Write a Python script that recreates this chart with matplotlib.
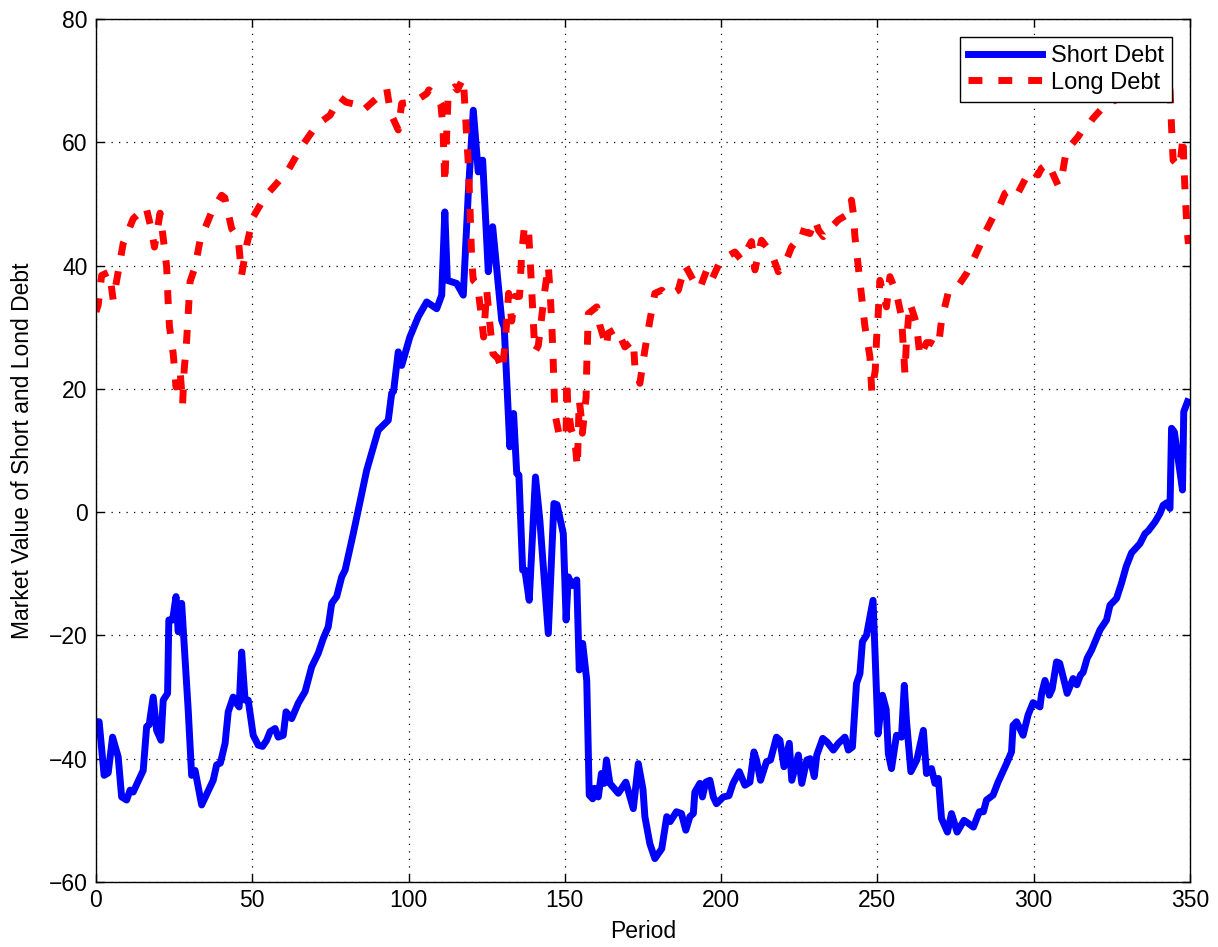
import matplotlib
matplotlib.use("Agg")
import matplotlib.pyplot as plt

plt.rcParams['font.family'] = ['Liberation Sans', 'DejaVu Sans']

# Short debt: (period, value) samples
short_period = [0, 1, 2.6, 3.9, 5.3, 7.1, 8.2, 9.8, 10.9, 11.9, 15.1, 16.2, 17, 18.3, 19.4, 20.8,
                21.5, 22.9, 23.3, 24.5, 25.6, 26.3, 27.4, 28, 29.5, 30.6, 31.7, 33.8, 37.5, 38.6,
                39.8, 41.3, 42.3, 43.9, 44.9, 45.8, 46.6, 47.7, 48.7, 50.3, 51.9, 53.3, 54.6, 55.7,
                57.3, 58.3, 59.9, 60.8, 62.6, 64.7, 66.9, 69, 71.1, 72.7, 74.3, 75.4, 77, 78.6,
                79.7, 82.3, 86.6, 90.3, 93.5, 94.6, 95.2, 96.7, 97.8, 100.4, 103.1, 105.8, 109,
                110.6, 111.6, 112.4, 115.4, 117.5, 119.1, 120.7, 122.3, 123.7, 125.5, 126.9, 129.8,
                130.6, 132.4, 133.6, 134.6, 135.3, 136.5, 137.2, 138.6, 140.6, 142, 144.7, 146.5,
                147.5, 149.5, 150.4, 151.1, 152.4, 153.8, 154.6, 155.7, 157, 157.8, 158.9, 159.5,
                160.7, 161.7, 162.6, 163.3, 164.4, 167.1, 169.5, 171.9, 173.5, 175, 175.6, 177.2,
                178.8, 181, 182.6, 183.7, 185.7, 187.3, 188.7, 190, 191.1, 191.6, 193.2, 194,
                195.1, 196.4, 197.5, 198.5, 200.7, 202.5, 203.8, 205.8, 207.6, 209.2, 210.5, 211.3,
                212.6, 214.5, 215.8, 217.7, 218.8, 220.1, 221.8, 222.6, 224.7, 225.8, 227.4, 228.5,
                229.8, 230.6, 232.5, 233.9, 235.9, 237.5, 239.6, 240.7, 242, 243.3, 244.4, 245.2,
                246.5, 247.6, 248.6, 250.2, 251.6, 252.8, 253.5, 254.5, 256.1, 257.7, 258.6, 259.3,
                260.7, 262.6, 264.7, 265.7, 267.3, 268.4, 269.5, 270.5, 272.4, 273.7, 275.5, 277.7,
                279.1, 280.7, 282.6, 283.9, 284.9, 287, 288.6, 291.3, 292.9, 293.4, 294.5, 296.6,
                298.2, 299.8, 302, 302.5, 303.6, 305, 305.9, 307.3, 308.3, 309.7, 310.7, 312.6,
                313.8, 315, 315.8, 317.1, 318.5, 321.2, 323.3, 324.4, 326.5, 328.1, 329.6, 331.3,
                334, 335.6, 336.7, 338.8, 340.4, 341.4, 342.5, 343.6, 344.1, 345, 347.6, 348, 349.2]
short_value = [-34, -34, -42.7, -42.3, -36.5, -39.7, -46.2, -46.7, -45.1, -45.4, -41.9, -34.8, -34.5,
               -30, -35.4, -37, -30.5, -29.4, -17.5, -17.5, -13.7, -19.4, -14.8, -19.7, -32.1,
               -42.7, -41.9, -47.5, -43.5, -41, -40.7, -37.5, -32.4, -30, -31, -31.6, -22.7, -30.5,
               -30.5, -36.2, -37.8, -38, -37, -35.6, -35.1, -36.5, -36.2, -32.4, -33.5, -31, -29.1,
               -25.1, -22.9, -20.5, -18.6, -14.8, -13.7, -10.5, -9.4, -3.5, 6.8, 13.3, 14.9, 19.3,
               19.6, 26, 23.8, 28.4, 31.7, 34.1, 33, 35.2, 48.7, 37.6, 37.1, 35.2, 51.7, 65.2, 55.2,
               57.1, 39, 46.3, 31.1, 30, 10.6, 16, 6.3, 6, -9.4, -9.4, -14.3, 5.7, -1.3, -19.7, 1.4,
               1.2, -3.5, -17.5, -10.5, -11.9, -11, -25.6, -21.3, -27.3, -45.9, -46.5, -44.8, -46.2,
               -42.4, -44, -40.2, -44, -45.6, -43.8, -48.1, -40.8, -45, -49.4, -53.8, -56.2, -54.6,
               -49.4, -50.2, -48.6, -48.9, -51.6, -49.4, -48.9, -45.4, -44, -46.2, -43.8, -43.5,
               -46.2, -47.3, -46.2, -46, -44, -42.1, -44.3, -43.8, -38.9, -40.2, -43.5, -40.5,
               -40.2, -36.5, -37, -41.3, -37.5, -43.5, -39.4, -44, -40.2, -40, -42.9, -39.4, -36.7,
               -37.3, -38.6, -37.5, -36.5, -38.6, -38.1, -27.8, -26.2, -21, -20, -17, -14.3, -36,
               -29.7, -32, -39.2, -41.6, -36.2, -36.5, -28.1, -33.9, -42.1, -40.2, -35.4, -42.4,
               -41.6, -44, -43.2, -49.7, -51.9, -48.9, -51.9, -50, -50.5, -51.1, -48.6, -48.6,
               -46.7, -45.9, -43.8, -40.8, -38.9, -34.6, -34, -36.2, -32.9, -30.9, -31.6, -29.5,
               -27.3, -29.7, -28.7, -24.3, -24.5, -27.3, -29.4, -27, -28, -26.4, -26, -23.7, -22.4,
               -19.1, -17.5, -15.1, -14, -11.5, -8.8, -6.6, -5.1, -3.5, -3, -1.6, -0.2, 1.1, 1.5,
               0.6, 13.6, 13, 3.6, 16.3, 17.9]

# Long debt: (period, value) samples
long_period = [0, 0.7, 1.8, 4.3, 5.5, 7.1, 8.7, 11.9, 16, 17.8, 18.7, 20.5, 21.5, 22.6, 23, 23.5,
               24.7, 25.6, 26.9, 27.7, 28.2, 29, 29.5, 30.1, 31.7, 33.3, 37, 40.2, 41.2, 43.4, 45.5,
               46.6, 48.2, 50.3, 54.1, 58.3, 61.5, 65.8, 70.6, 74.9, 78, 80, 84.5, 85.5, 90.8, 93,
               94, 94.8, 96.7, 97.8, 102, 105.8, 106.5, 109, 110.3, 111, 111.6, 112.4, 112.7, 114.8,
               115.6, 117.5, 118.4, 119.1, 119.6, 120.2, 120.7, 122, 123, 124, 125, 126, 127,
               128.5, 130, 131, 132, 133, 134, 135.5, 136.2, 137, 138.3, 139, 139.7, 140.4, 141.5,
               142.6, 143.6, 144.7, 145.3, 145.8, 146.2, 146.5, 146.8, 148.4, 150.4, 150.6, 151,
               152, 153.2, 154, 154.6, 155.1, 155.6, 156.8, 157, 157.5, 160.2, 161.2, 163.3, 163.8,
               166.6, 169.2, 171.9, 172.4, 174, 175.6, 177.2, 178.8, 181, 182.5, 184.6, 186.3,
               188.4, 189.4, 191.1, 193.2, 195.4, 196.9, 199.6, 201.7, 204.4, 206.5, 209.7, 210.8,
               212.9, 216.1, 218.3, 220.9, 222.5, 224, 225.2, 228.4, 230, 231.2, 232.7, 234.8,
               237.5, 240.1, 241.7, 242.3, 242.8, 243.9, 244.9, 246, 247.6, 248.2, 249.3, 249.7,
               250.2, 250.8, 252.9, 254, 256.1, 257.7, 258.8, 259.3, 260.4, 262.5, 263.6, 265.7,
               267, 269.5, 270.5, 272.6, 275.3, 278.5, 280.1, 282.8, 283.8, 287, 288.2, 290.8,
               293.4, 294.9, 298.8, 301.4, 302.5, 304.6, 307.8, 308.8, 309.9, 310.5, 314.2, 315.2,
               317.9, 319, 323.3, 327, 331, 335, 339, 343.6, 344.1, 344.6, 346.7, 347.8, 348,
               348.4, 349, 349.5]
long_value = [32.5, 33.6, 38.4, 39, 34.4, 39, 43.6, 47.6, 49.5, 45.7, 43, 48.5, 44.5, 39.8, 35,
              30.1, 25.7, 20.3, 23, 17.5, 23, 27.9, 32.2, 37.4, 39.8, 44.1, 48.7, 51.4, 51, 46,
              44.4, 38.5, 43.3, 47.9, 51.2, 53.6, 55.5, 59.3, 62.8, 64.4, 67.3, 66.5, 66, 65.2,
              67.6, 68.7, 65.5, 64.1, 62, 66.3, 66.6, 67.9, 68.5, 67.4, 66.3, 62.5, 53.3, 64.1,
              68.2, 69, 68.5, 70.4, 62.5, 56.6, 50.1, 40.9, 37.6, 37, 33, 28.4, 36, 30.6, 25.7, 25,
              23, 28, 35.5, 31, 35, 35, 42, 46, 46.5, 40, 33, 26, 27, 31.7, 36, 40, 35.5, 30.6, 25.7,
              20.9, 16, 12, 12.8, 21.4, 16.8, 13.5, 11.7, 7.3, 18.2, 16, 12.8, 18.7, 23.6, 32.2,
              33.3, 30.3, 26.8, 29, 29.8, 26.8, 27.9, 23.6, 20.9, 26.3, 31.1, 35.5, 36, 35.1, 35.5,
              36, 40, 39.2, 37.6, 36.3, 39.3, 37.6, 40.6, 41.4, 42.2, 40.9, 43.9, 39.3, 44.1, 42,
              39, 40.9, 43, 43.9, 45.7, 45.2, 47.4, 45.7, 44.7, 46, 47.4, 48.2, 50.6, 48.4, 44.7,
              39.8, 35.2, 30.1, 25.2, 19.5, 23, 27.9, 31.7, 37.6, 33.3, 38.2, 35.5, 31.7, 22.5,
              27.9, 33.9, 30.6, 25.2, 27.5, 27.5, 26.8, 31.1, 35.5, 36.3, 38.7, 40.3, 43.3, 44.7,
              47.9, 48.6, 51.7, 52.5, 51.7, 55.5, 54.7, 55.8, 56.6, 53, 53.8, 57.1, 58.7, 60.9,
              61.7, 63.1, 63.9, 66.3, 67, 67.5, 67.8, 67.3, 68.5, 62.5, 57.1, 56, 60.9, 57, 52.2,
              46.3, 43.5]

x_ticks = [0, 50, 100, 150, 200, 250, 300, 350]
y_ticks = [-60, -40, -20, 0, 20, 40, 60, 80]

FS = 16.5

fig = plt.figure(figsize=(12.18, 9.47), dpi=100)
ax = fig.add_axes([96/1218, 1 - 882/947, (1190 - 96)/1218, (882 - 19)/947])

ax.plot(short_period, short_value, color='#0000ff', lw=5, solid_joinstyle='round',
        label='Short Debt')
ax.plot(long_period, long_value, color='#ff0000', lw=5, linestyle=(0, (2.0, 2.3)),
        dash_capstyle='butt', label='Long Debt')

ax.set_xlim(0, 350)
ax.set_ylim(-60, 80)
ax.set_xticks(x_ticks)
ax.set_yticks(y_ticks)
ax.tick_params(direction='in', top=True, right=True, length=6, width=1, labelsize=FS)
ax.tick_params(axis='x', pad=5)
ax.tick_params(axis='y', pad=6)
ax.grid(True, linestyle=(0, (1, 5)), color='black', linewidth=0.9)
for s in ax.spines.values():
    s.set_linewidth(1)

ax.set_xlabel('Period', fontsize=FS, labelpad=6)
ax.set_ylabel('Market Value of Short and Lond Debt', fontsize=FS, labelpad=11)

leg = ax.legend(loc='upper right', fontsize=FS + 0.5, fancybox=False, framealpha=1,
                edgecolor='black', borderaxespad=0.75, handlelength=3.1, borderpad=0.35,
                labelspacing=0.2, handletextpad=0.4)
leg.get_frame().set_linewidth(1)

fig.savefig('out.png', dpi=100)
